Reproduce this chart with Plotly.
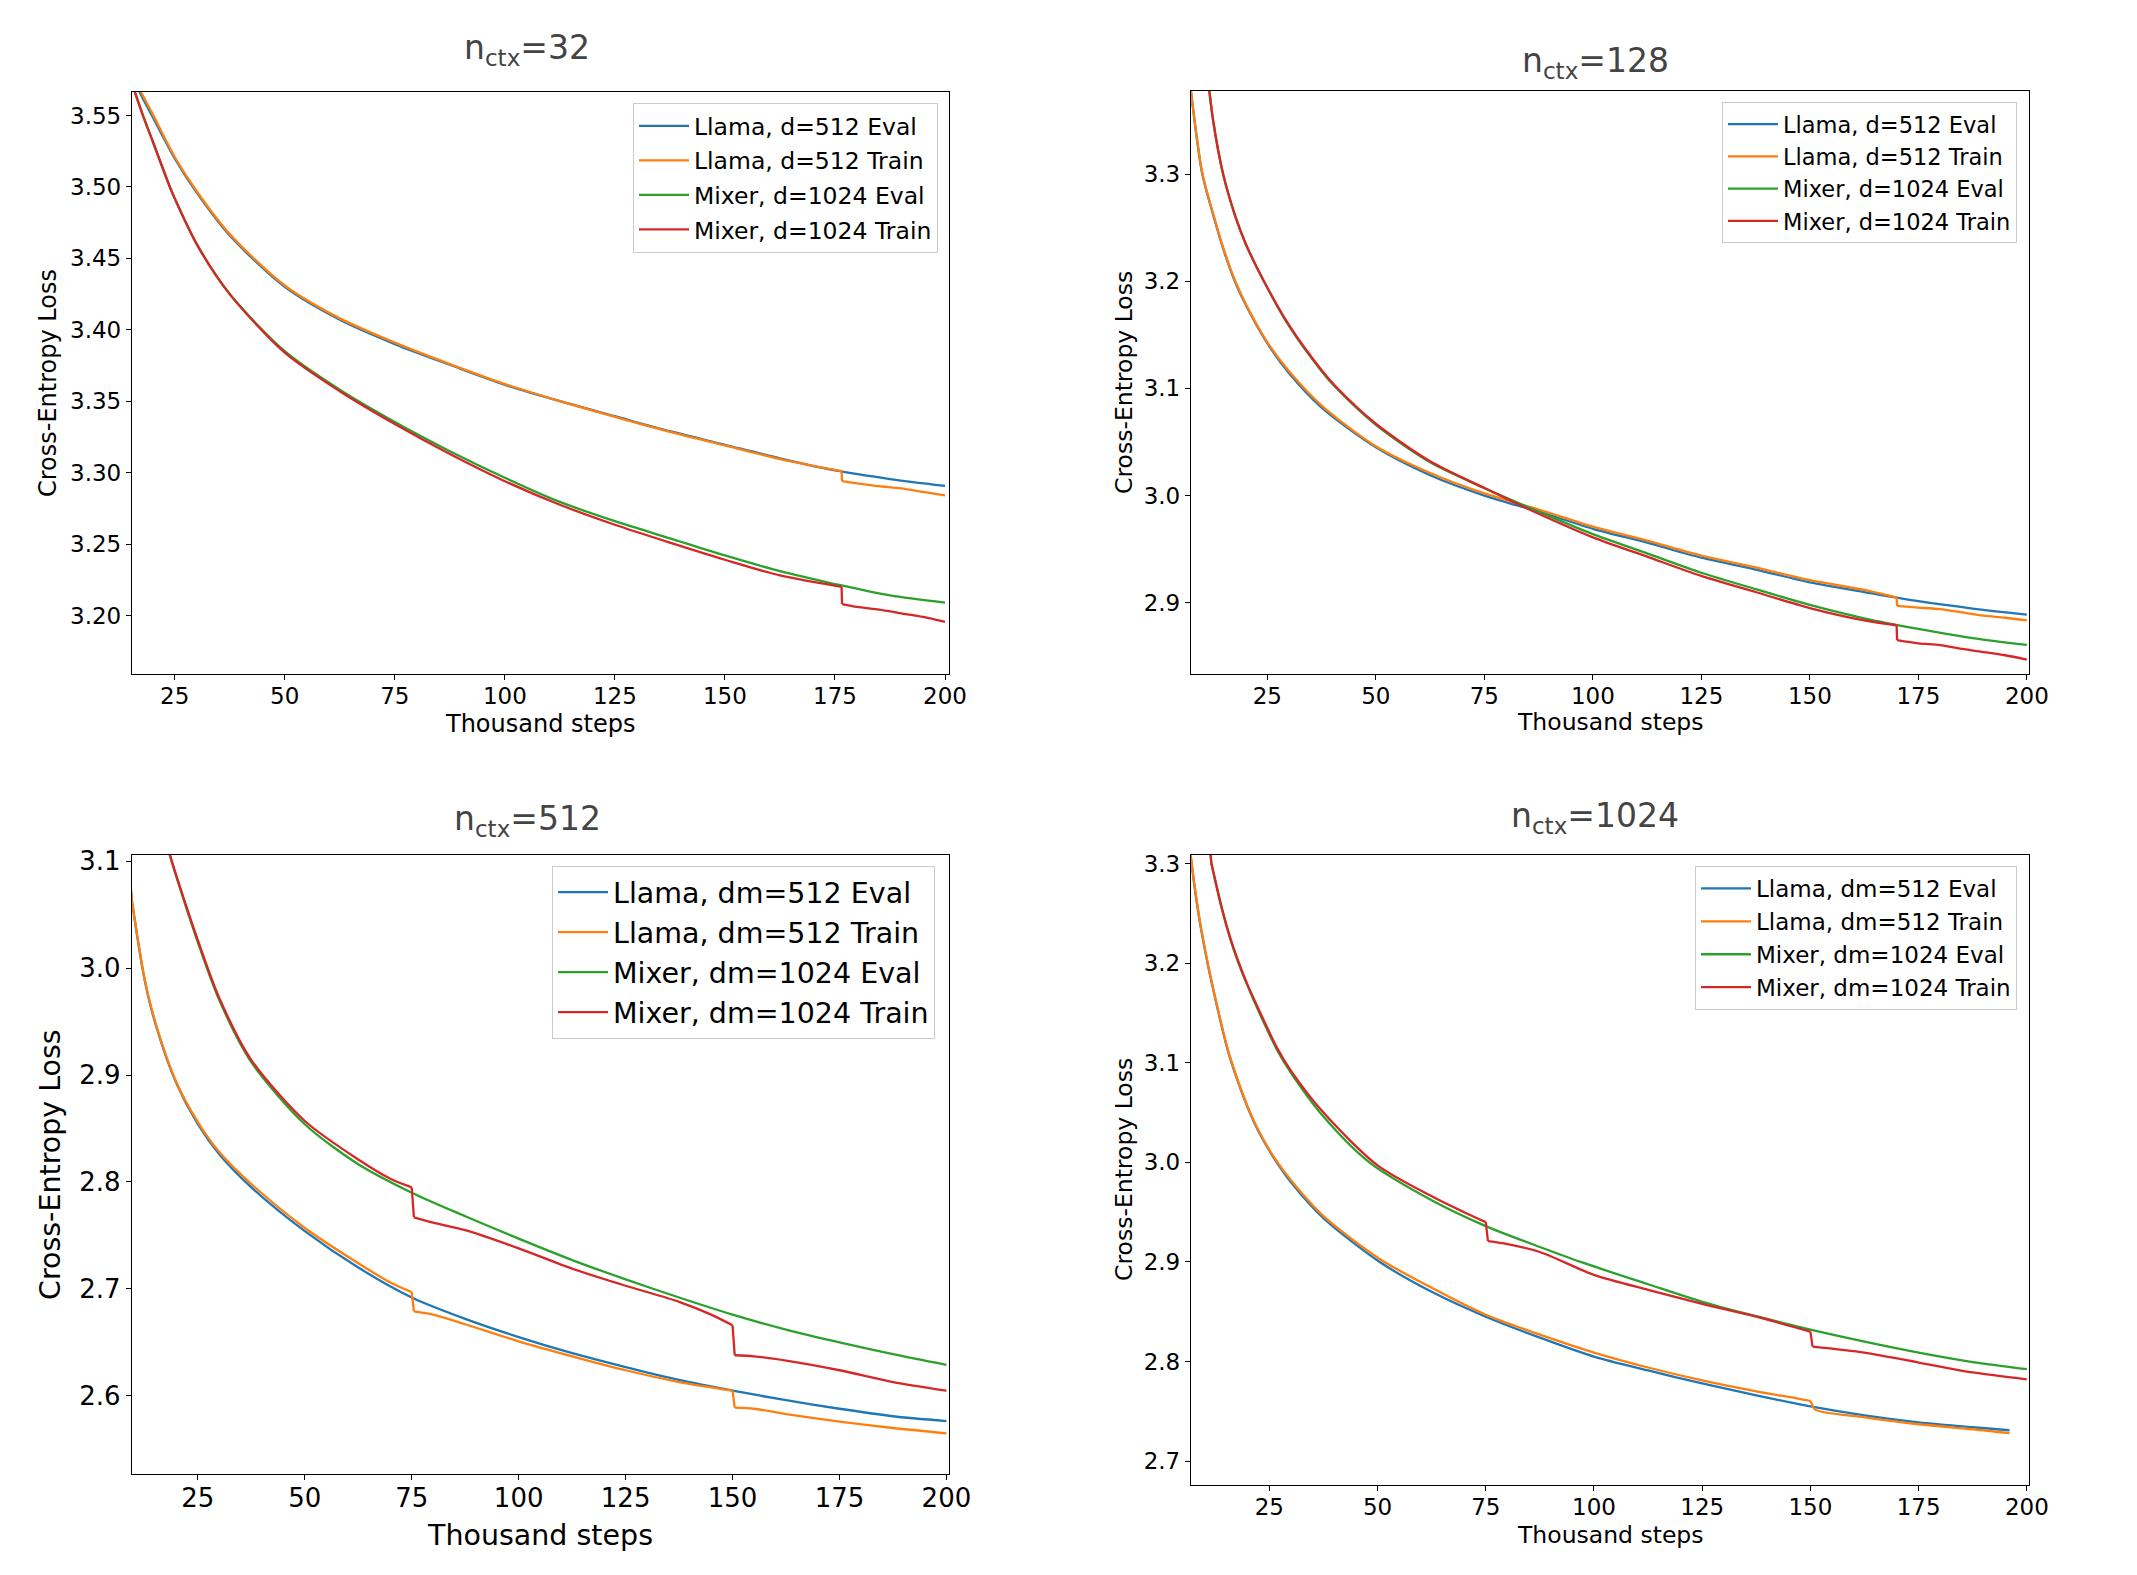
import plotly.graph_objects as go

# ---------------- data (thousand steps, cross-entropy loss) ----------------
# n_ctx = 32
x32_llama_eval = [15, 17.1, 20, 25, 30, 37.5, 50, 62.5, 75, 87.5, 100, 112.5, 125, 137.5, 150, 162.5, 175, 187.5, 200]
y32_llama_eval = [3.580, 3.566, 3.549, 3.520, 3.496, 3.466, 3.430, 3.407, 3.390, 3.3755, 3.3615, 3.3500, 3.3395, 3.3290, 3.3195, 3.3100, 3.3015, 3.2955, 3.2907]
x32_llama_train = [15, 17.1, 20, 25, 30, 37.5, 50, 62.5, 75, 87.5, 100, 112.5, 125, 137.5, 150, 162.5, 176.5, 176.6, 180, 185, 190, 195, 200]
y32_llama_train = [3.582, 3.568, 3.551, 3.521, 3.497, 3.467, 3.431, 3.408, 3.391, 3.3760, 3.3620, 3.3500, 3.3390, 3.3285, 3.3190, 3.3095, 3.3010, 3.2940, 3.2925, 3.2905, 3.2890, 3.2865, 3.2840]
x32_mixer_eval = [15, 16, 17.8, 20, 23.9, 25, 30, 37.5, 50, 62.5, 75, 87.5, 100, 112.5, 125, 137.5, 150, 162.5, 175, 187.5, 200]
y32_mixer_eval = [3.576, 3.566, 3.550, 3.532, 3.500, 3.492, 3.460, 3.425, 3.385, 3.358, 3.3354, 3.315, 3.2964, 3.2795, 3.266, 3.254, 3.242, 3.231, 3.222, 3.214, 3.209]
x32_mixer_train = [15, 16, 17.8, 20, 23.9, 25, 30, 37.5, 50, 62.5, 75, 87.5, 100, 112.5, 125, 137.5, 150, 162.5, 176.5, 176.6, 180, 185, 190, 195, 200]
y32_mixer_train = [3.576, 3.566, 3.550, 3.532, 3.500, 3.492, 3.460, 3.425, 3.384, 3.357, 3.334, 3.313, 3.294, 3.2775, 3.2635, 3.251, 3.239, 3.228, 3.2200, 3.2080, 3.2060, 3.2040, 3.2015, 3.1990, 3.1955]

# n_ctx = 128
x128_llama_eval = [7.0, 7.4, 10, 12.5, 15, 17.5, 20, 25, 30, 37.5, 50, 62.5, 75, 87.5, 100, 112.5, 125, 137.5, 150, 162.5, 175, 187.5, 200]
y128_llama_eval = [3.392, 3.377, 3.300, 3.262, 3.228, 3.200, 3.178, 3.142, 3.114, 3.082, 3.045, 3.019, 3.000, 2.985, 2.969, 2.956, 2.942, 2.931, 2.919, 2.910, 2.9014, 2.8946, 2.889]
x128_llama_train = [7.0, 7.4, 10, 12.5, 15, 17.5, 20, 25, 30, 37.5, 50, 62.5, 75, 87.5, 100, 112.5, 125, 137.5, 150, 162.5, 170, 170.1, 175, 180, 185, 190, 195, 200]
y128_llama_train = [3.392, 3.377, 3.301, 3.263, 3.229, 3.201, 3.179, 3.143, 3.116, 3.084, 3.046, 3.021, 3.002, 2.987, 2.971, 2.958, 2.944, 2.933, 2.921, 2.912, 2.905, 2.897, 2.8955, 2.894, 2.891, 2.888, 2.886, 2.8835]
x128_mixer_eval = [11.0, 12.5, 14.8, 17.5, 20, 24.2, 30, 37.5, 40.7, 50, 62.5, 75, 87.5, 100, 112.5, 125, 137.5, 150, 162.5, 175, 187.5, 200]
y128_mixer_eval = [3.400, 3.350, 3.300, 3.262, 3.235, 3.200, 3.158, 3.116, 3.101, 3.066, 3.031, 3.007, 2.985, 2.964, 2.946, 2.928, 2.9127, 2.898, 2.8855, 2.8756, 2.867, 2.8606]
x128_mixer_train = [11.0, 12.5, 14.8, 17.5, 20, 24.2, 30, 37.5, 40.7, 50, 62.5, 75, 87.5, 100, 112.5, 125, 137.5, 150, 162.5, 170, 170.1, 175, 180, 185, 190, 195, 200]
y128_mixer_train = [3.400, 3.350, 3.300, 3.262, 3.235, 3.200, 3.159, 3.117, 3.102, 3.067, 3.032, 3.007, 2.983, 2.961, 2.943, 2.925, 2.910, 2.895, 2.8835, 2.879, 2.865, 2.862, 2.8605, 2.857, 2.854, 2.851, 2.847]

# n_ctx = 512
x512_llama_eval = [9.0, 9.6, 12.5, 15, 20, 25, 30, 37.5, 50, 62.5, 75, 87.5, 100, 112.5, 125, 137.5, 150, 162.5, 175, 187.5, 200]
y512_llama_eval = [3.090, 3.062, 2.990, 2.949, 2.892, 2.854, 2.826, 2.795, 2.754, 2.720, 2.692, 2.672, 2.655, 2.640, 2.627, 2.615, 2.605, 2.596, 2.588, 2.581, 2.5765]
x512_llama_train = [9.0, 9.6, 12.5, 15, 20, 25, 30, 37.5, 50, 62.5, 70, 75, 75.5, 80, 87.5, 100, 112.5, 125, 137.5, 150, 150.5, 155, 162.5, 175, 187.5, 200]
y512_llama_train = [3.090, 3.062, 2.991, 2.950, 2.893, 2.856, 2.828, 2.798, 2.757, 2.724, 2.706, 2.697, 2.679, 2.676, 2.667, 2.651, 2.637, 2.624, 2.613, 2.605, 2.589, 2.588, 2.583, 2.576, 2.570, 2.565]
x512_mixer_eval = [17.5, 18, 20, 25, 30, 37.5, 50, 62.5, 75, 87.5, 100, 112.5, 125, 137.5, 150, 162.5, 175, 187.5, 200]
y512_mixer_eval = [3.118, 3.111, 3.085, 3.024, 2.970, 2.912, 2.854, 2.8166, 2.790, 2.768, 2.747, 2.727, 2.709, 2.692, 2.676, 2.662, 2.650, 2.639, 2.629]
x512_mixer_train = [17.5, 18, 20, 25, 30, 37.5, 50, 62.5, 70, 75, 75.5, 80, 87.5, 100, 112.5, 125, 137.5, 145, 150, 150.5, 155, 162.5, 175, 187.5, 200]
y512_mixer_train = [3.118, 3.112, 3.086, 3.026, 2.972, 2.914, 2.857, 2.821, 2.803, 2.795, 2.767, 2.762, 2.755, 2.738, 2.719, 2.703, 2.688, 2.676, 2.666, 2.638, 2.637, 2.633, 2.624, 2.613, 2.605]

# n_ctx = 1024
x1024_llama_eval = [6.5, 6.9, 8, 9, 10, 11.2, 13, 15.3, 17.5, 20, 22.5, 26.1, 30, 37.5, 50.5, 62.5, 75, 87.5, 100, 112.5, 125, 137.5, 150, 162.5, 175, 187.5, 196]
y1024_llama_eval = [3.320, 3.305, 3.268, 3.240, 3.216, 3.190, 3.155, 3.114, 3.084, 3.055, 3.031, 3.004, 2.980, 2.944, 2.900, 2.870, 2.845, 2.824, 2.805, 2.791, 2.778, 2.766, 2.755, 2.746, 2.739, 2.734, 2.731]
x1024_llama_train = [6.5, 6.9, 8, 9, 10, 11.2, 13, 15.3, 17.5, 20, 22.5, 26.1, 30, 37.5, 50.5, 62.5, 75, 87.5, 100, 112.5, 125, 137.5, 148, 150, 151, 162.5, 175, 187.5, 196]
y1024_llama_train = [3.320, 3.306, 3.269, 3.241, 3.217, 3.191, 3.156, 3.115, 3.085, 3.056, 3.032, 3.005, 2.982, 2.946, 2.903, 2.874, 2.847, 2.827, 2.809, 2.794, 2.781, 2.770, 2.762, 2.760, 2.752, 2.744, 2.737, 2.732, 2.728]
x1024_mixer_eval = [11.4, 11.6, 14, 16, 17.9, 20, 22.5, 26.9, 30, 37.5, 48.1, 62.5, 75, 87.5, 96.9, 112.5, 125, 137.5, 150, 162.5, 175, 187.5, 200]
y1024_mixer_eval = [3.310, 3.300, 3.255, 3.224, 3.200, 3.177, 3.152, 3.112, 3.090, 3.046, 3.000, 2.962, 2.936, 2.915, 2.900, 2.8776, 2.860, 2.8455, 2.832, 2.820, 2.809, 2.7995, 2.7924]
x1024_mixer_train = [11.4, 11.6, 14, 16, 17.9, 20, 22.5, 26.9, 30, 37.5, 50, 62.5, 70, 75, 75.5, 80, 87.5, 100, 112.5, 125, 137.5, 150, 150.5, 162.5, 175, 187.5, 200]
y1024_mixer_train = [3.310, 3.301, 3.256, 3.225, 3.201, 3.178, 3.154, 3.114, 3.092, 3.050, 2.997, 2.966, 2.950, 2.940, 2.921, 2.918, 2.910, 2.887, 2.872, 2.858, 2.845, 2.830, 2.815, 2.809, 2.799, 2.789, 2.782]

titles = ["n<sub>ctx</sub>=32", "n<sub>ctx</sub>=128", "n<sub>ctx</sub>=512", "n<sub>ctx</sub>=1024"]
names_d = ["Llama, d=512 Eval", "Llama, d=512 Train", "Mixer, d=1024 Eval", "Mixer, d=1024 Train"]
names_dm = ["Llama, dm=512 Eval", "Llama, dm=512 Train", "Mixer, dm=1024 Eval", "Mixer, dm=1024 Train"]
x_ticks = [25, 50, 75, 100, 125, 150, 175, 200]
y_ticks_32 = [3.20, 3.25, 3.30, 3.35, 3.40, 3.45, 3.50, 3.55]
y_ticks_128 = [2.9, 3.0, 3.1, 3.2, 3.3]
y_ticks_512 = [2.6, 2.7, 2.8, 2.9, 3.0, 3.1]
y_ticks_1024 = [2.7, 2.8, 2.9, 3.0, 3.1, 3.2, 3.3]

colors = ["#1f77b4", "#ff7f0e", "#2ca02c", "#d62728"]
FONT = "DejaVu Sans"
W, H = 2137, 1575
OFF = 8  # page body margin in the browser


def px(x):
    return (x - OFF) / W


def py(y):
    return 1 - (y - OFF) / H


def split_drops(xs, ys):
    """Insert gaps so that the smoothed line keeps the sharp step drops as vertical segments."""
    ox, oy = [xs[0]], [ys[0]]
    for a in range(1, len(xs)):
        if xs[a] - xs[a - 1] < 0.6:  # a step drop
            ox += [None, xs[a - 1], xs[a], None]
            oy += [None, ys[a - 1], ys[a], None]
        ox.append(xs[a])
        oy.append(ys[a])
    return ox, oy


panels = [
    dict(series=[(x32_llama_eval, y32_llama_eval), (x32_llama_train, y32_llama_train),
                 (x32_mixer_eval, y32_mixer_eval), (x32_mixer_train, y32_mixer_train)],
         names=names_d, xr=[15.3, 200.9], yr=[3.159, 3.5665], yt=y_ticks_32, yfmt=".2f",
         xd=[132, 949], yd=[92, 674], tick=23, lab=24, leg=23.5, legxy=(938, 103), gap=1,
         title_xy=(527, 49), xlab_xy=(540, 724), ylab_xy=(48, 383)),
    dict(series=[(x128_llama_eval, y128_llama_eval), (x128_llama_train, y128_llama_train),
                 (x128_mixer_eval, y128_mixer_eval), (x128_mixer_train, y128_mixer_train)],
         names=names_d, xr=[7.4, 200.5], yr=[2.8335, 3.3775], yt=y_ticks_128, yfmt=".1f",
         xd=[1191, 2029], yd=[91, 674], tick=23, lab=23.5, leg=22.5, legxy=(2017, 102), gap=0,
         title_xy=(1595, 63), xlab_xy=(1610, 722), ylab_xy=(1124, 383)),
    dict(series=[(x512_llama_eval, y512_llama_eval), (x512_llama_train, y512_llama_train),
                 (x512_mixer_eval, y512_mixer_eval), (x512_mixer_train, y512_mixer_train)],
         names=names_dm, xr=[9.6, 200.6], yr=[2.527, 3.1057], yt=y_ticks_512, yfmt=".1f",
         xd=[132, 949], yd=[855, 1474], tick=26, lab=28.5, leg=28.5, legxy=(935, 866), gap=0,
         title_xy=(527, 820), xlab_xy=(540, 1535), ylab_xy=(50, 1165)),
    dict(series=[(x1024_llama_eval, y1024_llama_eval), (x1024_llama_train, y1024_llama_train),
                 (x1024_mixer_eval, y1024_mixer_eval), (x1024_mixer_train, y1024_mixer_train)],
         names=names_dm, xr=[6.9, 200.5], yr=[2.676, 3.3087], yt=y_ticks_1024, yfmt=".1f",
         xd=[1191, 2029], yd=[855, 1485], tick=23, lab=23.5, leg=23, legxy=(2017, 866), gap=0,
         title_xy=(1595, 818), xlab_xy=(1610, 1535), ylab_xy=(1124, 1170)),
]

fig = go.Figure()
layout = dict(width=W, height=H, margin=dict(l=0, r=0, t=0, b=0, autoexpand=False),
              paper_bgcolor="white", plot_bgcolor="white",
              font=dict(family=FONT, color="black"), annotations=[])

for i, p in enumerate(panels):
    k = "" if i == 0 else str(i + 1)
    legname = "legend" if i == 0 else f"legend{i + 1}"
    for j, (xs, ys) in enumerate(p["series"]):
        lx, ly = split_drops(xs, ys)
        fig.add_trace(go.Scatter(x=lx, y=ly, mode="lines", name=p["names"][j],
                                 line=dict(color=colors[j], width=2.3, shape="spline", smoothing=0.8),
                                 connectgaps=False,
                                 xaxis="x" + k, yaxis="y" + k, legend=legname,
                                 legendgroup=f"{i}_{j}"))
    axis_common = dict(showline=True, linecolor="black", linewidth=1.3, mirror=True,
                       ticks="outside", ticklen=5, tickwidth=1.2, tickcolor="black",
                       showgrid=False, zeroline=False, automargin=False,
                       tickfont=dict(family=FONT, size=p["tick"], color="black"))
    layout["xaxis" + k] = dict(axis_common, range=p["xr"], tickvals=x_ticks,
                               domain=[px(p["xd"][0]), px(p["xd"][1])],
                               anchor="y" + k)
    layout["yaxis" + k] = dict(axis_common, range=p["yr"], tickvals=p["yt"],
                               tickformat=p["yfmt"],
                               domain=[py(p["yd"][1]), py(p["yd"][0])],
                               anchor="x" + k)
    layout[legname] = dict(x=px(p["legxy"][0]), y=py(p["legxy"][1]),
                           xanchor="right", yanchor="top",
                           bgcolor="rgba(255,255,255,0.8)", bordercolor="#cccccc",
                           borderwidth=1, traceorder="grouped", tracegroupgap=p["gap"],
                           itemwidth=50,
                           font=dict(family=FONT, size=p["leg"], color="black"))
    layout["annotations"] += [
        dict(text=titles[i], x=px(p["title_xy"][0]), y=py(p["title_xy"][1]),
             xref="paper", yref="paper", showarrow=False, xanchor="center", yanchor="middle",
             font=dict(family=FONT, size=33, color="#444444")),
        dict(text="Thousand steps", x=px(p["xlab_xy"][0]), y=py(p["xlab_xy"][1]),
             xref="paper", yref="paper", showarrow=False, xanchor="center", yanchor="middle",
             font=dict(family=FONT, size=p["lab"], color="black")),
        dict(text="Cross-Entropy Loss", x=px(p["ylab_xy"][0]), y=py(p["ylab_xy"][1]),
             xref="paper", yref="paper", showarrow=False, xanchor="center", yanchor="middle",
             textangle=-90, font=dict(family=FONT, size=p["lab"], color="black")),
    ]

fig.update_layout(**layout)
for ax in ["xaxis", "xaxis2", "xaxis3", "xaxis4"]:
    try:
        fig.layout[ax].ticklabelstandoff = -4
    except Exception:
        pass
fig.write_html("out.html")
